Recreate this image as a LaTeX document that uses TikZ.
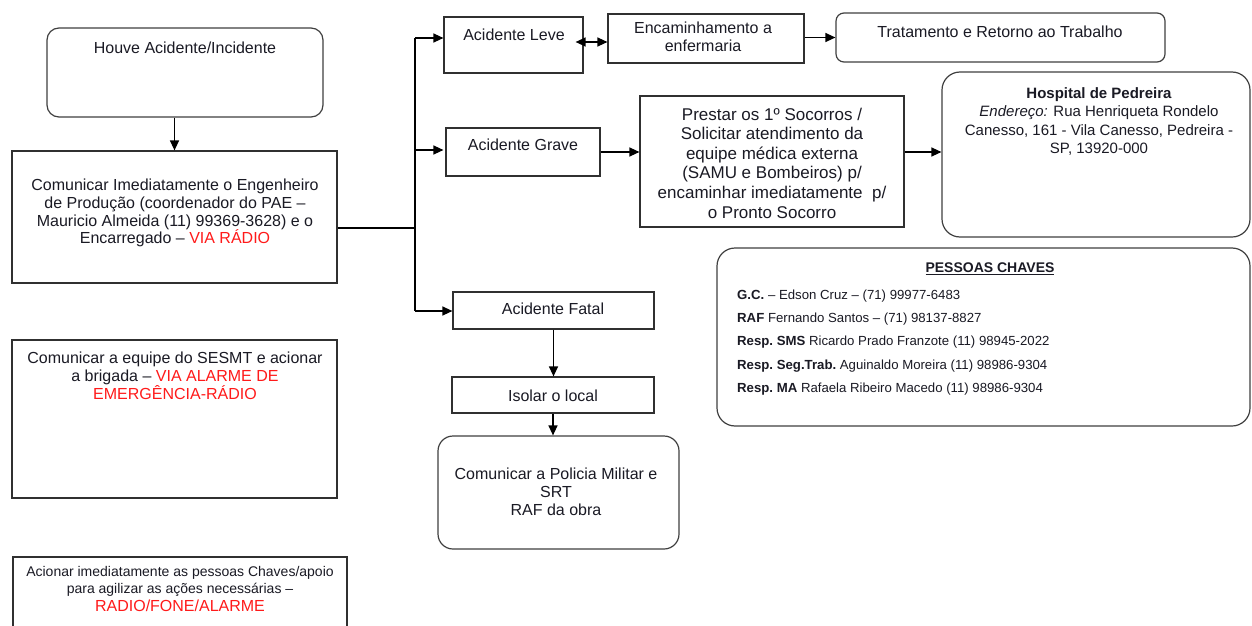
\documentclass[tikz,border=0pt]{standalone}
\usepackage{fontspec}
\setmainfont{Liberation Sans}
\usetikzlibrary{arrows.meta}
\definecolor{txt}{HTML}{1A1A24}
\definecolor{rd}{HTML}{FF1A1A}
\definecolor{edge}{HTML}{303030}
\definecolor{redge}{HTML}{404040}
\begin{document}
\begin{tikzpicture}[x=1pt,y=-1pt,
  box/.style={draw=edge,line width=1.2pt,rectangle,inner sep=0pt},
  rbox/.style={draw=redge,line width=1.2pt,rectangle,inner sep=0pt,rounded corners=#1},
  rbox/.default=12pt,
  lbl/.style={text=txt,align=center,inner sep=0pt,font=\fontsize{16}{17.8}\selectfont},
  arr/.style={draw=black,line width=1.3pt,-{Triangle[length=10pt,width=9pt]}},
  ln/.style={draw=black,line width=1.3pt}]
\clip (0,0) rectangle (1252,626);
\fill[white] (0,0) rectangle (1252,626);

% boxes
\node[rbox=12pt,minimum width=276pt,minimum height=89pt] (houve) at (185,72.5) {};
\node[lbl] (houveT) at (185,48) {Houve Acidente/Incidente};

\node[box,minimum width=325pt,minimum height=132pt] (comm) at (174.5,217) {};
\node[lbl] (commT) at (175,213) {Comunicar Imediatamente o Engenheiro\\de Produção (coordenador do PAE –\\Mauricio Almeida (11) 99369-3628) e o\\Encarregado – {\color{rd}VIA RÁDIO}};

\node[box,minimum width=139pt,minimum height=56pt] (leve) at (513.5,45) {};
\node[lbl] (leveT) at (514,35) {Acidente Leve};

\node[box,minimum width=196pt,minimum height=49pt] (enc) at (706,38.5) {};
\node[lbl] (encT) at (703,37) {Encaminhamento a\\enfermaria};

\node[rbox=8pt,minimum width=329pt,minimum height=49pt] (trat) at (1000.5,37.5) {};
\node[lbl] (tratT) at (1000,32) {Tratamento e Retorno ao Trabalho};

\node[box,minimum width=154pt,minimum height=48pt] (grave) at (523,152) {};
\node[lbl] (graveT) at (523,145) {Acidente Grave};

\node[box,minimum width=264pt,minimum height=131pt] (prestar) at (772,161.5) {};
\node[lbl,font=\fontsize{17}{19.6}\selectfont] (prestarT) at (772,163) {Prestar os 1º Socorros /\\Solicitar atendimento da\\equipe médica externa\\(SAMU e Bombeiros) p/\\encaminhar imediatamente~ p/\\o Pronto Socorro};

\node[rbox=18pt,minimum width=308pt,minimum height=165pt] (hosp) at (1096,154.5) {};
\node[lbl,font=\fontsize{15}{18.3}\selectfont] (hospT) at (1099,121.5) {\textbf{Hospital de Pedreira}\\\textit{Endereço:} Rua Henriqueta Rondelo\\Canesso, 161 - Vila Canesso, Pedreira -\\SP, 13920-000};

\node[rbox=18pt,minimum width=533pt,minimum height=178pt] (pess) at (983.5,337) {};
\node[lbl,font=\bfseries\fontsize{14}{16}\selectfont] (pessT) at (990,269) {\underline{PESSOAS CHAVES}};
\node[lbl,align=left,anchor=west,font=\fontsize{13.2}{23.3}\selectfont] (pessL) at (737,342.5) {\textbf{G.C.} – Edson Cruz – (71) 99977-6483\\\textbf{RAF} Fernando Santos – (71) 98137-8827\\\textbf{Resp.\ SMS} Ricardo Prado Franzote (11) 98945-2022\\\textbf{Resp.\ Seg.Trab.\@} Aguinaldo Moreira (11) 98986-9304\\\textbf{Resp.\ MA} Rafaela Ribeiro Macedo (11) 98986-9304};

\node[box,minimum width=201pt,minimum height=37pt] (fatal) at (553.5,310.5) {};
\node[lbl] (fatalT) at (553,309) {Acidente Fatal};

\node[box,minimum width=202pt,minimum height=36pt] (isolar) at (553,395) {};
\node[lbl] (isolarT) at (553,396) {Isolar o local};

\node[rbox=15pt,minimum width=241pt,minimum height=113pt] (pol) at (558.5,492.5) {};
\node[lbl] (polT) at (556,492) {Comunicar a Policia Militar e\\SRT\\RAF da obra};

\node[box,minimum width=325pt,minimum height=158pt] (sesmt) at (174.5,419) {};
\node[lbl] (sesmtT) at (175,375.5) {Comunicar a equipe do SESMT e acionar\\a brigada – {\color{rd}VIA ALARME DE}\\{\color{rd}EMERGÊNCIA-RÁDIO}};

\node[box,minimum width=334pt,minimum height=90pt] (acion) at (180,602) {};
\node[lbl,font=\fontsize{14}{16.5}\selectfont] (acionT) at (180,589) {Acionar imediatamente as pessoas Chaves/apoio\\para agilizar as ações necessárias –\\[1.5pt]{\color{rd}\fontsize{16}{17}\selectfont RADIO/FONE/ALARME}};

% connectors
\draw[arr] (comm.north |- houve.south) -- (comm.north);
\coordinate (j) at (415,228);
\coordinate (jt) at (415,38);
\coordinate (jb) at (415,311);
\draw[ln] (comm.east |- j) -- (j);
\draw[ln] (jt) -- (jb);
\draw[arr] (jt) -- (jt -| leve.west);
\draw[arr] (j |- 0,150) -- (leve.west |- 0,150);
\draw[arr] (jb) -- (jb -| fatal.west);
\coordinate (lm) at (0,42);
\draw[ln,{Triangle[length=10pt,width=9pt]}-{Triangle[length=10pt,width=9pt]}] ([xshift=-8pt]leve.east |- lm) -- (enc.west |- lm);
\draw[arr] (enc.east |- trat.west) -- (trat.west);
\draw[arr] (grave.east) -- (grave.east -| prestar.west);
\draw[arr] (prestar.east |- grave.east) -- (hosp.west |- grave.east);
\draw[arr] (fatal.south) -- (fatal.south |- isolar.north);
\draw[arr] (isolar.south) -- (isolar.south |- pol.north);
\end{tikzpicture}
\end{document}
